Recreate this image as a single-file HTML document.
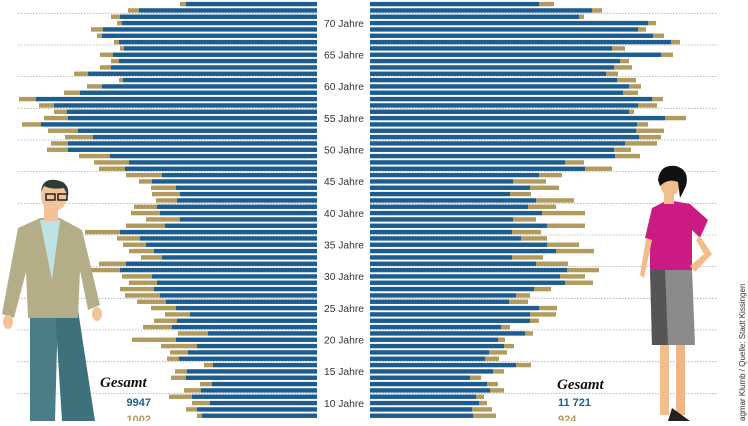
<!DOCTYPE html>
<html><head><meta charset="utf-8"><style>
html,body{margin:0;padding:0;background:#fff}
body{width:748px;height:421px;overflow:hidden;position:relative;font-family:"Liberation Sans",sans-serif}
</style></head><body>
<svg id="s" width="748" height="421" xmlns="http://www.w3.org/2000/svg"></svg>
<script>
var L=[[180,186],[128,139],[111,120],[117,122],[91,103],[97,102],[114,119],[120,124],[100,113],[111,119],[100,111],[74,88],[119,123],[87,102],[64,80],[19,36],[39,54],[54,67],[44,68],[22,41],[48,78],[65,93],[51,68],[47,68],[79,110],[94,129],[99,125],[126,162],[139,152],[151,176],[152,180],[156,177],[134,157],[131,160],[146,180],[126,165],[85,120],[117,140],[123,146],[129,154],[141,162],[99,126],[76,120],[122,152],[129,157],[120,154],[125,160],[137,166],[151,176],[165,190],[154,177],[143,172],[178,208],[132,176],[161,197],[170,188],[167,179],[204,213],[175,187],[171,186],[200,212],[184,201],[169,192],[192,210],[186,197],[197,202]];
var R=[[539,554],[592,602],[579,584],[648,656],[638,646],[653,664],[671,680],[612,625],[661,673],[620,629],[614,632],[606,618],[617,636],[629,641],[623,638],[652,663],[638,657],[629,634],[665,686],[637,648],[636,664],[639,661],[625,657],[614,631],[615,640],[565,584],[585,612],[539,562],[513,546],[530,559],[510,531],[536,574],[528,556],[542,585],[513,536],[547,585],[512,541],[521,547],[547,579],[556,594],[512,543],[536,568],[567,599],[560,585],[565,593],[534,551],[516,530],[509,528],[539,557],[530,556],[530,539],[501,510],[525,533],[498,505],[504,514],[489,507],[485,499],[516,531],[493,504],[470,481],[487,498],[490,504],[476,484],[479,487],[472,492],[473,496]];
var B="#1c5c8e",G="#b09a5e",h='';
for(var k=0;k<14;k++){var y=13.3+31.67*k;if(y>421)break;
h+='<line x1="18" x2="317" y1="'+y+'" y2="'+y+'" stroke="#aaa" stroke-width="0.8" stroke-dasharray="1.5,1.5"/>';
h+='<line x1="370" x2="718" y1="'+y+'" y2="'+y+'" stroke="#aaa" stroke-width="0.8" stroke-dasharray="1.5,1.5"/>';}
for(var i=0;i<66;i++){var t=1.9+i*6.333;
h+='<rect x="'+L[i][0]+'" y="'+t+'" width="'+(L[i][1]-L[i][0])+'" height="4.4" fill="'+G+'"/>';
h+='<rect x="'+L[i][1]+'" y="'+t+'" width="'+(317-L[i][1])+'" height="4.4" fill="'+B+'"/>';
h+='<rect x="370" y="'+t+'" width="'+(R[i][0]-370)+'" height="4.4" fill="'+B+'"/>';
h+='<rect x="'+R[i][0]+'" y="'+t+'" width="'+(R[i][1]-R[i][0])+'" height="4.4" fill="'+G+'"/>';
if(i%5==3){h+='<text x="344" y="'+(t+6)+'" font-size="10" text-anchor="middle" fill="#333" font-family="Liberation Sans Narrow, Liberation Sans, sans-serif" textLength="40" lengthAdjust="spacingAndGlyphs">'+(73-i)+' Jahre</text>';}}
// man
h+='<path d="M30 310 L58 310 L55 421 L30 421Z" fill="#4b7d88"/><path d="M55 310 L78 310 L95 421 L62 421Z" fill="#3f717c"/>';
h+='<path d="M18 228 L40 218 L60 218 L82 230 L100 305 L88 310 L80 270 L78 318 L28 318 L26 272 L14 318 L2 314Z" fill="#b3ae88"/>';
h+='<path d="M40 220 L60 220 L52 280Z" fill="#bfe3e3"/>';
h+='<rect x="44" y="205" width="14" height="16" fill="#f2c29a"/><ellipse cx="54" cy="196" rx="13" ry="15" fill="#f2c29a"/>';
h+='<path d="M41 192 Q42 178 56 180 Q70 182 68 196 L64 188 Q52 190 44 186Z" fill="#2f3a3a"/>';
h+='<rect x="46" y="194" width="9" height="6" fill="none" stroke="#222" stroke-width="1.5"/><rect x="58" y="194" width="9" height="6" fill="none" stroke="#222" stroke-width="1.5"/>';
h+='<ellipse cx="8" cy="322" rx="5" ry="7" fill="#f2c29a"/><ellipse cx="97" cy="314" rx="5" ry="7" fill="#f2c29a"/>';
// woman
h+='<rect x="660" y="335" width="9" height="80" fill="#f2bd8c"/><rect x="676" y="335" width="9" height="80" fill="#efb584"/>';
h+='<path d="M672 408 L690 421 L668 421Z" fill="#222"/>';
h+='<path d="M650 268 L692 268 L695 345 L652 345Z" fill="#8a8a8a"/><path d="M650 268 L665 268 L668 345 L652 345Z" fill="#555"/>';
h+='<path d="M652 208 L668 200 L690 204 L708 220 L700 238 L692 230 L692 270 L650 270 L650 240 L645 238Z" fill="#cc1a85"/>';
h+='<path d="M646 238 L640 275 L644 278 L652 240Z" fill="#f2bd8c"/><path d="M700 236 L712 254 L695 272 L690 266 L704 254 L696 240Z" fill="#f2bd8c"/>';
h+='<rect x="664" y="190" width="10" height="14" fill="#f2bd8c"/><ellipse cx="670" cy="183" rx="10" ry="13" fill="#f2bd8c"/>';
h+='<path d="M658 180 Q660 164 676 166 Q690 170 686 186 L680 198 L678 182 Q668 178 660 186Z" fill="#111"/>';
// text
h+='<text x="100" y="387" font-family="Liberation Serif,serif" font-style="italic" font-weight="bold" font-size="15" fill="#111">Gesamt</text>';
h+='<text x="151" y="406" text-anchor="end" font-weight="bold" font-size="11" fill="#1c5c8e">9947</text>';
h+='<text x="151" y="423" text-anchor="end" font-weight="bold" font-size="11" fill="#b09a5e">1002</text>';
h+='<text x="557" y="389" font-family="Liberation Serif,serif" font-style="italic" font-weight="bold" font-size="15" fill="#111">Gesamt</text>';
h+='<text x="558" y="406" font-weight="bold" font-size="11" fill="#1c5c8e">11 721</text>';
h+='<text x="558" y="423" font-weight="bold" font-size="11" fill="#b09a5e">924</text>';
h+='<text transform="translate(745,421) rotate(-90)" font-size="8" fill="#333">agmar Klumb / Quelle: Stadt Kissingen</text>';
document.getElementById('s').innerHTML=h;
</script>
</body></html>
